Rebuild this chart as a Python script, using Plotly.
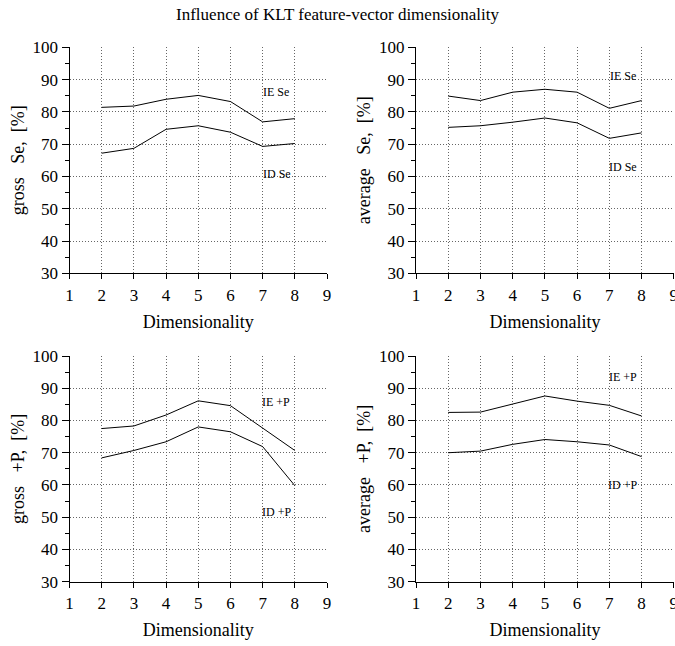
import plotly.graph_objects as go

dims = [2, 3, 4, 5, 6, 7, 8]

gross_se_ie = [81.4, 81.8, 83.9, 85.1, 83.2, 76.9, 77.9]
gross_se_id = [67.2, 68.7, 74.6, 75.7, 73.7, 69.3, 70.2]
avg_se_ie = [84.9, 83.5, 86.1, 87.0, 86.1, 81.1, 83.5]
avg_se_id = [75.2, 75.7, 76.8, 78.1, 76.6, 71.8, 73.5]
gross_p_ie = [77.5, 78.3, 81.7, 86.1, 84.6, 77.6, 70.7]
gross_p_id = [68.4, 70.7, 73.4, 78.0, 76.5, 71.9, 59.8]
avg_p_ie = [82.5, 82.6, 85.1, 87.6, 86.0, 84.7, 81.4]
avg_p_id = [70.0, 70.5, 72.6, 74.1, 73.4, 72.4, 68.8]

panels = [
    (gross_se_ie, gross_se_id, "gross\u00a0\u00a0\u00a0Se,\u00a0\u00a0[%]", "IE Se", "ID Se", (7.42, 86.2), (7.45, 60.8)),
    (avg_se_ie, avg_se_id, "average\u00a0\u00a0\u00a0Se,\u00a0\u00a0[%]", "IE Se", "ID Se", (7.42, 91.1), (7.42, 63.0)),
    (gross_p_ie, gross_p_id, "gross\u00a0\u00a0\u00a0+P,\u00a0\u00a0[%]", "IE +P", "ID +P", (7.42, 85.6), (7.42, 51.7)),
    (avg_p_ie, avg_p_id, "average\u00a0\u00a0\u00a0+P,\u00a0\u00a0[%]", "IE +P", "ID +P", (7.42, 93.6), (7.42, 60.0)),
]

W, H = 675, 646
xdoms = [(69.5 / W, 327 / W), (416 / W, 673.8 / W)]
ydoms = [(1 - 273.3 / H, 1 - 47.3 / H), (1 - 581.7 / H, 1 - 356 / H)]

FONT = "Liberation Serif"
fig = go.Figure()
annotations = []
for i, (ie, idd, ylab, ie_lab, id_lab, ie_pos, id_pos) in enumerate(panels):
    n = i + 1
    xa = "x" if n == 1 else f"x{n}"
    ya = "y" if n == 1 else f"y{n}"
    for ys in (ie, idd):
        fig.add_trace(go.Scatter(x=dims, y=ys, mode="lines", xaxis=xa, yaxis=ya,
                                 line=dict(color="black", width=1), showlegend=False,
                                 hoverinfo="skip"))
    for lab, pos in ((ie_lab, ie_pos), (id_lab, id_pos)):
        annotations.append(dict(x=pos[0], y=pos[1], xref=xa, yref=ya, text=lab,
                                showarrow=False, font=dict(family=FONT, size=12, color="black")))
    col = i % 2
    row = i // 2
    axkey = "xaxis" if n == 1 else f"xaxis{n}"
    aykey = "yaxis" if n == 1 else f"yaxis{n}"
    fig.update_layout(**{
        axkey: dict(domain=xdoms[col], anchor=ya, range=[1, 9], dtick=1, tick0=1,
                    automargin=False, ticklabeloverflow="allow",
                    showline=True, linecolor="black", linewidth=1,
                    ticks="outside", ticklen=5, tickcolor="black",
                    showgrid=True, gridcolor="#666666", griddash="1px,2px", gridwidth=1,
                    zeroline=False, ticklabelstandoff=1,
                    tickfont=dict(family=FONT, size=17, color="black"),
                    title=dict(text="Dimensionality", font=dict(family=FONT, size=18, color="black"),
                               standoff=11)),
        aykey: dict(domain=ydoms[row], anchor=xa, range=[30, 100], dtick=10, tick0=30,
                    automargin=False,
                    showline=True, linecolor="black", linewidth=1,
                    ticks="outside", ticklen=7, tickcolor="black",
                    minor=dict(dtick=5, ticks="outside", ticklen=4, tickcolor="black", showgrid=False),
                    showgrid=True, gridcolor="#666666", griddash="1px,2px", gridwidth=1,
                    zeroline=False, ticklabelstandoff=0,
                    tickfont=dict(family=FONT, size=17, color="black"),
                    title=dict(text=ylab, font=dict(family=FONT, size=18, color="black"),
                               standoff=3)),
    })

fig.update_layout(
    width=W, height=H,
    margin=dict(l=0, r=0, t=0, b=0, autoexpand=False),
    paper_bgcolor="white", plot_bgcolor="white",
    title=dict(text="Influence of KLT feature-vector dimensionality", x=0.5, xanchor="center",
               y=1 - 14 / H, yanchor="middle", automargin=False,
               font=dict(family=FONT, size=17, color="black")),
    annotations=annotations,
)

fig.write_html("out.html", config={"displayModeBar": False},
               post_script="document.body.style.margin='0';")
